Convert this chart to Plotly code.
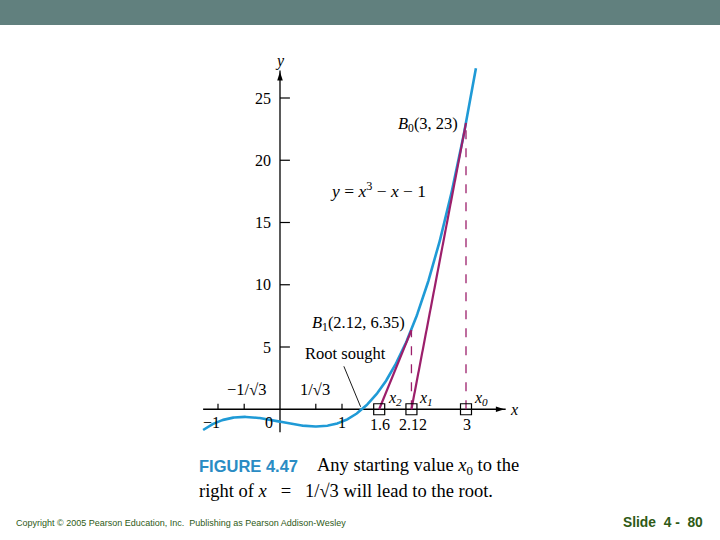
import numpy as np
import plotly.graph_objects as go

# ---- data ----
curve_x_min, curve_x_max = -1.24, 3.16
newton_x = [3.0, 2.12, 1.6]          # x0, x1, x2
newton_y = [23.0, 6.35]              # f(x0), f(x1)
newton_labels = ["x<sub>0</sub>", "x<sub>1</sub>", "x<sub>2</sub>"]
val_labels = ["3", "2.12", "1.6"]
y_ticks = [5, 10, 15, 20, 25]
x_ticks = [-1, -1/np.sqrt(3), 1/np.sqrt(3), 1]
x_tick_labels_below = ["−1", "0", "1"]
x_tick_label_pos = [-1.1, -0.17, 1.0]

# the chart's function y = x^3 - x - 1
cx = np.linspace(curve_x_min, curve_x_max, 300)
cy = cx**3 - cx - 1

BLUE = "#1f9ad6"
MAG = "#9c1f6b"
SERIF = "Liberation Serif"
NB = "\u00a0"

fig = go.Figure()

# axes lines with arrowheads
fig.add_trace(go.Scatter(x=[-1.24, 3.64], y=[0, 0], mode="lines",
                         line=dict(color="black", width=1.3), hoverinfo="skip"))
fig.add_trace(go.Scatter(x=[0, 0], y=[-1.85, 27.2], mode="lines",
                         line=dict(color="black", width=1.3), hoverinfo="skip"))
fig.add_trace(go.Scatter(x=[3.62], y=[0], mode="markers", hoverinfo="skip",
                         marker=dict(symbol="arrow", angle=90, size=9, color="black", line=dict(width=0))))
fig.add_trace(go.Scatter(x=[0], y=[27.1], mode="markers", hoverinfo="skip",
                         marker=dict(symbol="arrow", angle=0, size=9, color="black", line=dict(width=0))))

# curve
fig.add_trace(go.Scatter(x=cx, y=cy, mode="lines", line=dict(color=BLUE, width=2.6),
                         hoverinfo="skip"))
# tangents
fig.add_trace(go.Scatter(x=[newton_x[0], newton_x[1]], y=[newton_y[0], 0], mode="lines",
                         line=dict(color=MAG, width=2.2)))
fig.add_trace(go.Scatter(x=[newton_x[1], newton_x[2]], y=[newton_y[1], 0], mode="lines",
                         line=dict(color=MAG, width=2.2)))
# dashed verticals
for xv, yv in zip(newton_x[:2], newton_y):
    fig.add_trace(go.Scatter(x=[xv, xv], y=[0, yv], mode="lines",
                             line=dict(color=MAG, width=1.3, dash="dash")))
# squares
fig.add_trace(go.Scatter(x=newton_x, y=[0, 0, 0], mode="markers",
                         marker=dict(symbol="square-open", size=11, color="black",
                                     line=dict(width=1.2, color="black"))))

shapes = []
# header band
shapes.append(dict(type="rect", xref="paper", yref="paper", x0=0, x1=1, y0=1 - 25/540, y1=1,
                   fillcolor="#61807e", line=dict(width=0), layer="below"))
# y ticks (to the right of axis)
for t in y_ticks:
    shapes.append(dict(type="line", x0=0, x1=0.16, y0=t, y1=t, line=dict(color="black", width=1.2)))
# x ticks (upward)
for t in x_ticks:
    shapes.append(dict(type="line", x0=t, x1=t, y0=0, y1=0.45, line=dict(color="black", width=1.2)))
# leader line for "Root sought"
shapes.append(dict(type="line", x0=1.03, y0=3.45, x1=1.30, y1=0.2, line=dict(color="black", width=0.9)))

ann = []

def txt(x, y, s, size=16, xanchor="center", yanchor="middle", color="black", family=SERIF,
        xref="x", yref="y", style="normal", weight="normal"):
    ann.append(dict(x=x, y=y, text=s, showarrow=False, xanchor=xanchor, yanchor=yanchor,
                    xref=xref, yref=yref,
                    font=dict(family=family, size=size, color=color, style=style, weight=weight)))

for t in y_ticks:
    txt(-0.11, t, str(t), xanchor="right")
txt(0, 27.97, "y", style="italic")
txt(3.77, 0, "x", style="italic")
for s, p in zip(x_tick_labels_below, x_tick_label_pos):
    txt(p, -1.1, s)
txt(-0.54, 1.6, "−1/√3", size=16.5)
txt(0.56, 1.6, "1/√3", size=16.5)
for s, p in zip(val_labels, newton_x):
    txt(p + 0.02, -1.2, s)
for s, p, dx in zip(newton_labels, newton_x, [0.26, 0.25, 0.28]):
    txt(p + dx - 0.02, 0.9, s, style="italic")
txt(1.87, 22.9, "<i>B</i><sub>0</sub>(3, 23)", size=16.5, xanchor="left")
txt(0.77, 17.6, "<i>y</i> = <i>x</i><sup>3</sup> − <i>x</i> − 1", size=17.5, xanchor="left")
txt(0.49, 6.9, "<i>B</i><sub>1</sub>(2.12, 6.35)", size=16.5, xanchor="left")
txt(0.37, 4.5, "Root sought", size=16.5, xanchor="left")

# caption
txt(197/720, 1 - 466/540, "FIGURE 4.47", size=16.5, xanchor="left", color="#2a8cc4",
    family="Liberation Sans", xref="paper", yref="paper", weight="bold")
txt(315/720, 1 - 466/540, "Any starting value <i>x</i><sub>0</sub> to the", size=18.5, xanchor="left",
    xref="paper", yref="paper")
txt(197/720, 1 - 491/540,
    "right of <i>x</i>" + NB * 3 + "=" + NB * 3 + "1/√3 will lead to the root.",
    size=18.5, xanchor="left", xref="paper", yref="paper")
# footer
txt(14/720, 1 - 523/540, "Copyright © 2005 Pearson Education, Inc.  Publishing as Pearson Addison-Wesley",
    size=9, xanchor="left", color="#2e5a16", family="Liberation Sans", xref="paper", yref="paper")
txt(621/720, 1 - 522/540, "Slide  4 -  80", size=13.8, xanchor="left", color="#2e5a16",
    family="Liberation Sans", xref="paper", yref="paper", weight="bold")

fig.update_layout(
    width=720, height=540, margin=dict(l=0, r=0, t=0, b=0),
    paper_bgcolor="white", plot_bgcolor="white",
    xaxis=dict(range=[-280/62, 440/62], visible=False, fixedrange=True),
    yaxis=dict(range=[(409.25-540)/12.45, 409.25/12.45], visible=False, fixedrange=True),
    shapes=shapes, annotations=ann, showlegend=False, hovermode=False,
)
fig.write_html("out.html", config={"displayModeBar": False},
               post_script="document.body.style.margin='0px';")
